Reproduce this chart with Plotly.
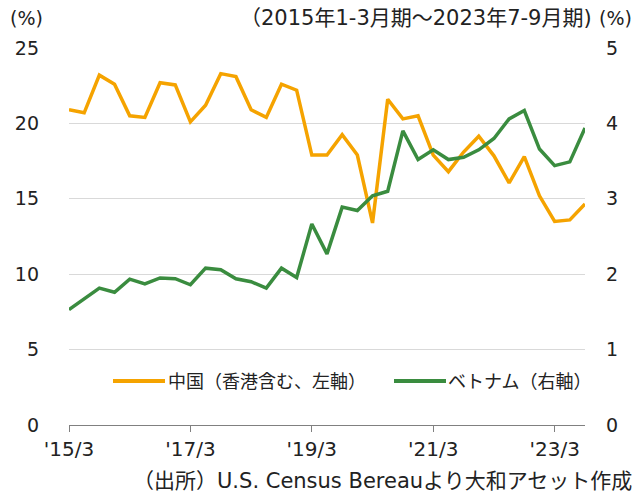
import plotly.graph_objects as go

quarters = [f"{y}Q{q}" for y in range(2015, 2024) for q in range(1, 5)][:35]
tick_labels = ["'15/3", "'17/3", "'19/3", "'21/3", "'23/3"]
tick_idx = [0, 8, 16, 24, 32]

china = [20.9, 20.7, 23.2, 22.6, 20.5, 20.4, 22.7, 22.55, 20.1, 21.2, 23.3, 23.1,
         20.9, 20.4, 22.6, 22.2, 17.9, 17.9, 19.25, 17.9, 13.4, 21.6, 20.3, 20.5,
         17.9, 16.8, 18.1, 19.15, 17.85, 16.05, 17.8, 15.2, 13.5, 13.6, 14.65]
vietnam = [1.53, 1.67, 1.815, 1.76, 1.935, 1.87, 1.95, 1.94, 1.86, 2.08, 2.06, 1.94,
           1.90, 1.815, 2.08, 1.955, 2.665, 2.27, 2.89, 2.845, 3.04, 3.10, 3.90, 3.52,
           3.65, 3.52, 3.55, 3.65, 3.80, 4.06, 4.17, 3.66, 3.44, 3.49, 3.94]

ORANGE = "#F5A300"
GREEN = "#3A8C3F"
FONT = "DejaVu Sans, Noto Sans CJK JP"
x = list(range(len(quarters)))

L, R, T, B = 69, 585, 48, 425
PW, PH = R - L, B - T


def px(v):
    return (v - L) / PW


def py(v):
    return (B - v) / PH


fig = go.Figure()
fig.add_trace(go.Scatter(x=x, y=china, mode="lines", name="中国（香港含む、左軸）",
                         line=dict(color=ORANGE, width=3.5), yaxis="y"))
fig.add_trace(go.Scatter(x=x, y=vietnam, mode="lines", name="ベトナム（右軸）",
                         line=dict(color=GREEN, width=3.5), yaxis="y2"))

fig.update_layout(
    width=644, height=497,
    margin=dict(l=L, r=644 - R, t=T, b=497 - B, autoexpand=False),
    paper_bgcolor="white", plot_bgcolor="white",
    showlegend=False,
    font=dict(family=FONT, size=19, color="#222222"),
    xaxis=dict(range=[0, 34], tickmode="array", tickvals=tick_idx, ticktext=tick_labels,
               showgrid=False, zeroline=False, showline=True, linecolor="#808080",
               linewidth=1, ticks="outside", ticklen=6, tickcolor="#808080",
               tickfont=dict(size=20), automargin=False),
    yaxis=dict(range=[0, 25], tickvals=[0, 5, 10, 15, 20, 25], showgrid=True,
               gridcolor="#D9D9D9", gridwidth=1, zeroline=False, showline=False,
               ticks="", ticklabelstandoff=29, tickfont=dict(size=19), automargin=False),
    yaxis2=dict(range=[0, 5], tickvals=[0, 1, 2, 3, 4, 5], overlaying="y", side="right",
                showgrid=False, zeroline=False, showline=False, ticks="",
                ticklabelstandoff=20, tickfont=dict(size=19), automargin=False),
)

# legend drawn manually
leg_y = 381
fig.add_shape(type="line", xref="paper", yref="paper",
              x0=px(113), x1=px(165), y0=py(leg_y), y1=py(leg_y),
              line=dict(color=ORANGE, width=4))
fig.add_shape(type="line", xref="paper", yref="paper",
              x0=px(394), x1=px(446), y0=py(leg_y), y1=py(leg_y),
              line=dict(color=GREEN, width=4))
fig.add_annotation(xref="paper", yref="paper", x=px(166), y=py(leg_y),
                   text="中国（香港含む、左軸）", showarrow=False, xanchor="left",
                   yanchor="middle", font=dict(size=18))
fig.add_annotation(xref="paper", yref="paper", x=px(446), y=py(leg_y),
                   text="ベトナム（右軸）", showarrow=False, xanchor="left",
                   yanchor="middle", font=dict(size=18))

# header texts
fig.add_annotation(xref="paper", yref="paper", x=px(8), y=py(18),
                   text="(%)", showarrow=False, xanchor="left", yanchor="middle",
                   font=dict(size=19))
fig.add_annotation(xref="paper", yref="paper", x=px(594), y=py(18),
                   text="（2015年1-3月期～2023年7-9月期)", showarrow=False,
                   xanchor="right", yanchor="middle", font=dict(size=21))
fig.add_annotation(xref="paper", yref="paper", x=px(634), y=py(18),
                   text="(%)", showarrow=False, xanchor="right", yanchor="middle",
                   font=dict(size=19))
fig.add_annotation(xref="paper", yref="paper", x=px(634), y=py(481),
                   text="（出所）U.S. Census Bereauより大和アセット作成", showarrow=False,
                   xanchor="right", yanchor="middle", font=dict(size=21))

fig.write_html("out.html", config={"displayModeBar": False},
               post_script="document.body.style.margin='0';document.body.style.padding='0';")
